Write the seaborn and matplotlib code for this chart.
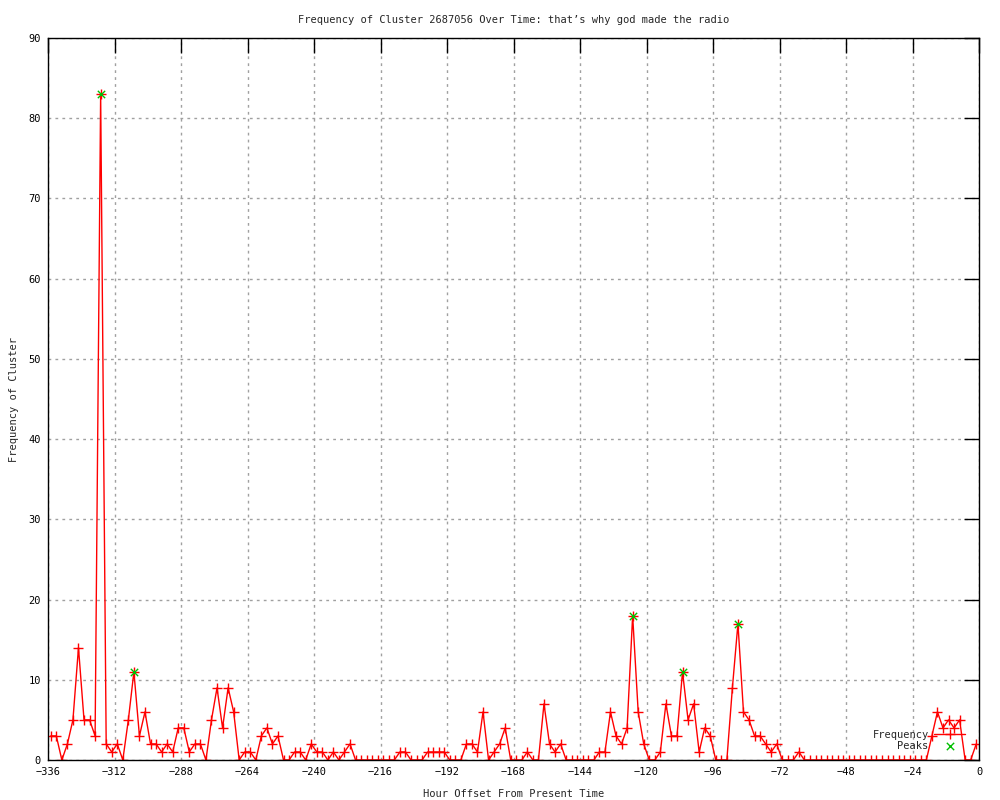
import matplotlib
matplotlib.use("Agg")
import matplotlib.pyplot as plt
import seaborn as sns
import pandas as pd

# ---- data ----
hours = list(range(-335, 0, 2))
frequency = [
    3, 3, 0, 2, 5, 14, 5, 5, 3, 83,
    2, 1, 2, 0, 5, 11, 3, 6, 2, 2,
    1, 2, 1, 4, 4, 1, 2, 2, 0, 5,
    9, 4, 9, 6, 0, 1, 1, 0, 3, 4,
    2, 3, 0, 0, 1, 1, 0, 2, 1, 1,
    0, 1, 0, 1, 2, 0,
    0, 0, 0, 0, 0, 0, 0,
    1, 1, 0, 0, 0, 1, 1, 1, 1, 0,
    0, 0, 2, 2, 1, 6, 0, 1, 2, 4,
    0, 0, 0, 1, 0, 0, 7, 2, 1, 2,
    0, 0, 0, 0, 0, 0, 1, 1, 6, 3,
    2, 4, 18, 6, 2, 0, 0, 1, 7, 3,
    3, 11, 5, 7, 1, 4, 3, 0, 0, 0,
    9, 17, 6, 5, 3, 3, 2, 1, 2, 0,
    0, 0, 1,
    0, 0, 0, 0, 0, 0, 0, 0, 0, 0, 0, 0, 0, 0, 0, 0, 0, 0, 0, 0, 0, 0, 0,
    3, 6, 4, 5, 4, 5, 0, 0, 2,
]
peak_hours = [-317, -305, -125, -107, -87]
peak_values = [83, 11, 18, 11, 17]

x_ticks = list(range(-336, 1, 24))
y_ticks = list(range(0, 91, 10))

title = "Frequency of Cluster 2687056 Over Time: that\u2019s why god made the radio"
x_label = "Hour Offset From Present Time"
y_label = "Frequency of Cluster"

df = pd.DataFrame({"hour": hours, "freq": frequency})
peaks = pd.DataFrame({"hour": peak_hours, "freq": peak_values})

sns.set_style("white")
plt.rcParams["font.family"] = ["DejaVu Sans Mono", "DejaVu Sans"]
FS = 7.5

fig = plt.figure(figsize=(10, 8), dpi=100)
ax = fig.add_axes([0.048, 0.05, 0.931, 0.9025])

sns.lineplot(data=df, x="hour", y="freq", ax=ax, color="#ff0000", lw=1.0,
             marker="+", markersize=6.5, markeredgewidth=1.0,
             markeredgecolor="#ff0000", label="Frequency", zorder=3)
sns.scatterplot(data=peaks, x="hour", y="freq", ax=ax, color="#00c000",
                marker="x", s=28, linewidth=1.0, label="Peaks", zorder=4)

ax.set_xlim(-336, 0)
ax.set_ylim(0, 90)
ax.set_xticks(x_ticks)
ax.set_yticks(y_ticks)
ax.grid(True, color="#a0a0a0", linestyle=(0, (2, 3)), linewidth=1.0)
ax.tick_params(direction="in", length=11, width=1, top=True, right=True,
               labelsize=FS, pad=5, colors="black")
for s in ax.spines.values():
    s.set_color("black")
    s.set_linewidth(1.0)
    s.set_zorder(5)

ax.set_title(title, fontsize=FS, pad=11)
ax.set_xlabel(x_label, fontsize=FS, labelpad=9)
ax.set_ylabel(y_label, fontsize=FS, labelpad=7)

leg = ax.legend(loc="lower right", bbox_to_anchor=(0.993, 0.003), frameon=False,
                markerfirst=False, fontsize=FS, handlelength=3.0,
                handletextpad=0.5, labelspacing=0.1, borderaxespad=0.3)

fig.savefig("out.png", dpi=100, facecolor="white")
